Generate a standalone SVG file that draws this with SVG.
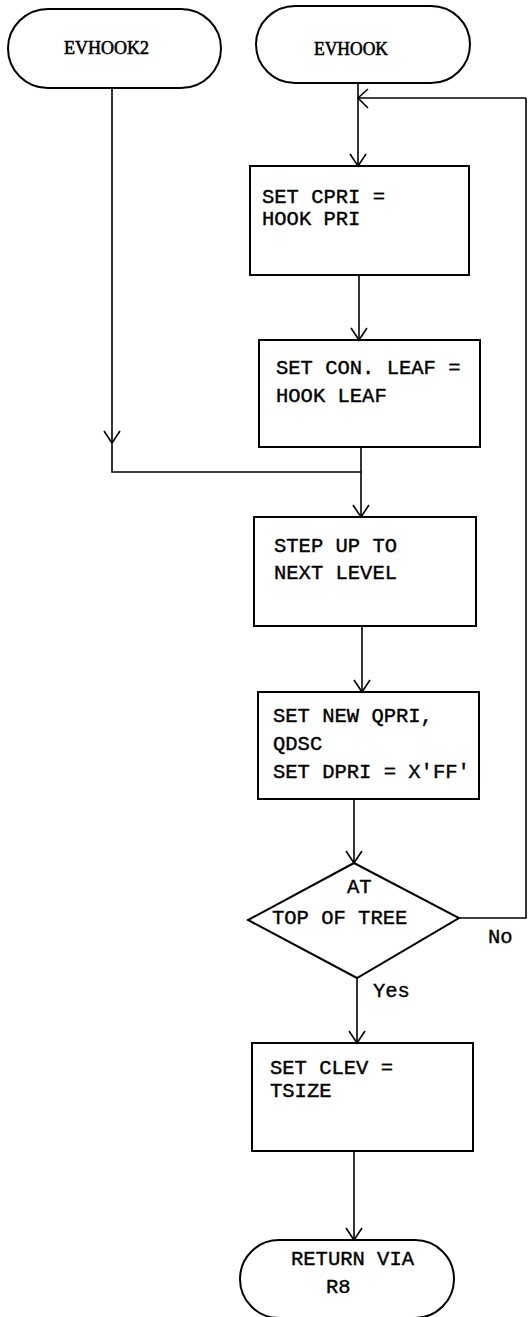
<svg xmlns="http://www.w3.org/2000/svg" width="528" height="1317" viewBox="0 0 528 1317">
<style>
.s{fill:none;stroke:#000;stroke-width:2}
.c{fill:none;stroke:#000;stroke-width:1.6}
.t{font-family:"Liberation Mono","Courier New",monospace;font-size:20.5px;fill:#000;stroke:#000;stroke-width:0.4}
.h{font-family:"Liberation Serif","Times New Roman",serif;font-size:19px;fill:#000;stroke:#000;stroke-width:0.6}
</style>
<rect width="528" height="1317" fill="#fff"/>
<g id="connectors">
<path class="c" d="M358 83 V166"/>
<path class="c" d="M350 154 L358 166 L366 154"/>
<path class="c" d="M526 98 H358"/>
<path class="c" d="M368 89 L358 98 L368 108"/>
<path class="c" d="M112 89 V472 H361"/>
<path class="c" d="M104 431 L112 443 L120 431"/>
<path class="c" d="M359 275 V340"/>
<path class="c" d="M351 328 L359 340 L367 328"/>
<path class="c" d="M361 447 V517"/>
<path class="c" d="M353 505 L361 517 L369 505"/>
<path class="c" d="M362 626 V692"/>
<path class="c" d="M354 680 L362 692 L370 680"/>
<path class="c" d="M354 799 V863"/>
<path class="c" d="M346 851 L354 863 L362 851"/>
<path class="c" d="M357 978 V1043"/>
<path class="c" d="M349 1031 L357 1043 L365 1031"/>
<path class="c" d="M354 1151 V1240"/>
<path class="c" d="M346 1228 L354 1240 L362 1228"/>
<path class="c" d="M459 918 H526 V98"/>
<text class="t" x="488" y="943">No</text>
<text class="t" x="373" y="997">Yes</text>
</g>
<g id="evhook2">
<rect class="s" x="8" y="9" width="213" height="79" rx="40" ry="39.5"/>
<text class="h" x="64" y="54" textLength="85" lengthAdjust="spacingAndGlyphs">EVHOOK2</text>
</g>
<g id="evhook">
<rect class="s" x="256" y="6" width="214" height="77" rx="39" ry="38.5"/>
<text class="h" x="314" y="55" textLength="74" lengthAdjust="spacingAndGlyphs">EVHOOK</text>
</g>
<g id="box1">
<rect class="s" x="250" y="166" width="219" height="109"/>
<text class="t" x="262" y="203">SET CPRI =</text>
<text class="t" x="262" y="225">HOOK PRI</text>
</g>
<g id="box2">
<rect class="s" x="259" y="340" width="221" height="107"/>
<text class="t" x="276" y="374">SET CON. LEAF =</text>
<text class="t" x="276" y="402">HOOK LEAF</text>
</g>
<g id="box3">
<rect class="s" x="254" y="517" width="222" height="109"/>
<text class="t" x="274" y="552">STEP UP TO</text>
<text class="t" x="274" y="579">NEXT LEVEL</text>
</g>
<g id="box4">
<rect class="s" x="258" y="692" width="221" height="107"/>
<text class="t" x="273" y="722">SET NEW QPRI,</text>
<text class="t" x="273" y="750">QDSC</text>
<text class="t" x="273" y="778">SET DPRI = X'FF'</text>
</g>
<g id="decision">
<path class="s" d="M354 863 L459 918 L357 978 L248 920 Z"/>
<text class="t" x="347" y="893">AT</text>
<text class="t" x="272" y="924">TOP OF TREE</text>
</g>
<g id="box5">
<rect class="s" x="252" y="1043" width="221" height="108"/>
<text class="t" x="270" y="1074">SET CLEV =</text>
<text class="t" x="270" y="1097">TSIZE</text>
</g>
<g id="return">
<rect class="s" x="240" y="1240" width="214" height="78" rx="39" ry="39"/>
<text class="t" x="291" y="1265">RETURN VIA</text>
<text class="t" x="326" y="1293">R8</text>
</g>
</svg>
